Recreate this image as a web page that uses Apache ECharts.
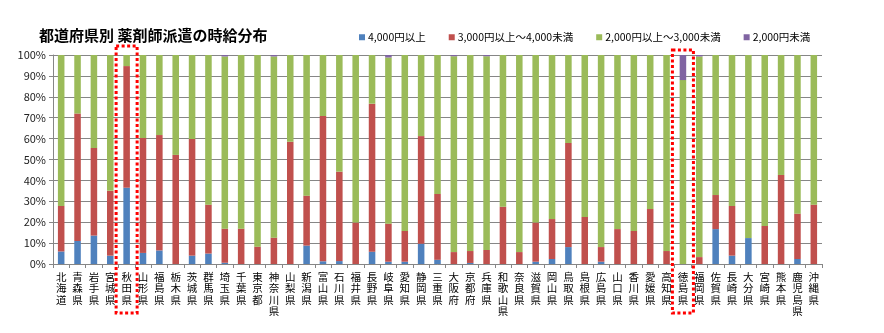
<!DOCTYPE html>
<html>
<head>
<meta charset="utf-8">
<script src="https://cdn.jsdelivr.net/npm/echarts@6/dist/echarts.min.js"></script>
<style>html,body{margin:0;padding:0;background:#fff}#c{width:884px;height:333px}</style>
</head>
<body>
<div id="c"></div>
<script>
const categories = ['北海道','青森県','岩手県','宮城県','秋田県','山形県','福島県','栃木県','茨城県','群馬県','埼玉県','千葉県','東京都','神奈川県','山梨県','新潟県','富山県','石川県','福井県','長野県','岐阜県','愛知県','静岡県','三重県','大阪府','京都府','兵庫県','和歌山県','奈良県','滋賀県','岡山県','鳥取県','島根県','広島県','山口県','香川県','愛媛県','高知県','徳島県','福岡県','佐賀県','長崎県','大分県','宮崎県','熊本県','鹿児島県','沖縄県'];
const seriesNames = ['4,000円以上','3,000円以上～4,000未満','2,000円以上～3,000未満','2,000円未満'];
const over4000 = [6,11,13.6,4,36.5,5.3,6.5,0,4,5,0.6,0,0,0,0,8.8,1.3,1.4,0,5.9,1.1,1.1,9.7,2,0,0.5,0,0,0,1.1,2.4,8.1,0,1.1,0,0,0,0,0,0,16.7,4,12.4,0,0,2.4,0];
const from3000 = [21.8,61,41.9,31,58.2,55,55.2,52.2,55.8,23.4,16.3,16.9,8.3,12.6,58.5,23.9,69.5,42.8,19.8,70.8,18.2,14.7,51.5,31.5,5.7,5.7,6.7,27.4,5.7,18.7,19.1,49.8,22.5,7,16.7,15.8,26.3,6.2,0,3.3,16.3,23.8,0,18.2,42.6,21.7,28.4];
const under2000 = [0,0,0,0,0,0,0,0,0,0,0.7,0,0,0.7,0,0,0,0,0,0,1.2,0,0,0,0.6,0,0.6,0,0,0,0,0,0,0,0,0,0,0,12,0.7,0,0,0,0,0,0,0];
const from2000 = categories.map((_, i) => +(100 - over4000[i] - from3000[i] - under2000[i]).toFixed(1));
const yTicks = [0,10,20,30,40,50,60,70,80,90,100];
const highlighted = ['秋田県','徳島県'];

const colors = ['#4F81BD','#C0504D','#9BBB59','#8064A2'];
const font = '"Noto Sans CJK JP", "Noto Sans", sans-serif';
const chart = echarts.init(document.getElementById('c'), null, {renderer:'canvas'});
const dataSets = [over4000, from3000, from2000, under2000];

chart.setOption({
  animation: false,
  color: colors,
  title: {
    text: '都道府県別 薬剤師派遣の時給分布',
    left: 34, top: 23,
    textStyle: {fontFamily: font, fontSize: 15, fontWeight: 'bold', color: '#000'}
  },
  legend: {
    left: 354, top: 27,
    itemWidth: 6, itemHeight: 6, itemGap: 23,
    icon: 'rect',
    textStyle: {fontFamily: font, fontSize: 10.5, color: '#000', padding: [0,0,0,-2]},
    data: seriesNames
  },
  grid: {left: 53, right: 62, top: 55, bottom: 69, containLabel: false},
  xAxis: {
    type: 'category',
    data: categories,
    axisLine: {lineStyle: {color: '#868686'}},
    axisTick: {show: true, length: 4, lineStyle: {color: '#868686'}},
    axisLabel: {
      interval: 0, margin: 7,
      fontFamily: font, fontSize: 10.5, color: '#000', lineHeight: 11.5,
      formatter: v => v.split('').join('\n'),
      verticalAlign: 'top'
    }
  },
  yAxis: {
    type: 'value',
    min: yTicks[0], max: yTicks[yTicks.length-1], interval: 10,
    axisLine: {show: true, lineStyle: {color: '#868686'}},
    axisTick: {show: true, length: 4, lineStyle: {color: '#868686'}},
    axisLabel: {fontFamily: font, fontSize: 11, color: '#222', margin: 7, formatter: '{value}%'},
    splitLine: {lineStyle: {color: '#868686', width: 1}}
  },
  series: seriesNames.map((name, k) => ({
    name, type: 'bar', stack: 'total', barWidth: '40%',
    data: dataSets[k]
  }))
});

const boxTops = {'秋田県': 46, '徳島県': 50};
const graphics = highlighted.map(name => {
  const cx = chart.convertToPixel({xAxisIndex: 0}, name);
  const top = boxTops[name];
  return {
    type: 'rect',
    shape: {x: cx - 10.5, y: top, width: 21, height: 313 - top},
    style: {fill: 'none', stroke: '#FF0000', lineWidth: 3, lineDash: [3, 2.5]},
    z: 100
  };
});
chart.setOption({graphic: graphics});
</script>
</body>
</html>
